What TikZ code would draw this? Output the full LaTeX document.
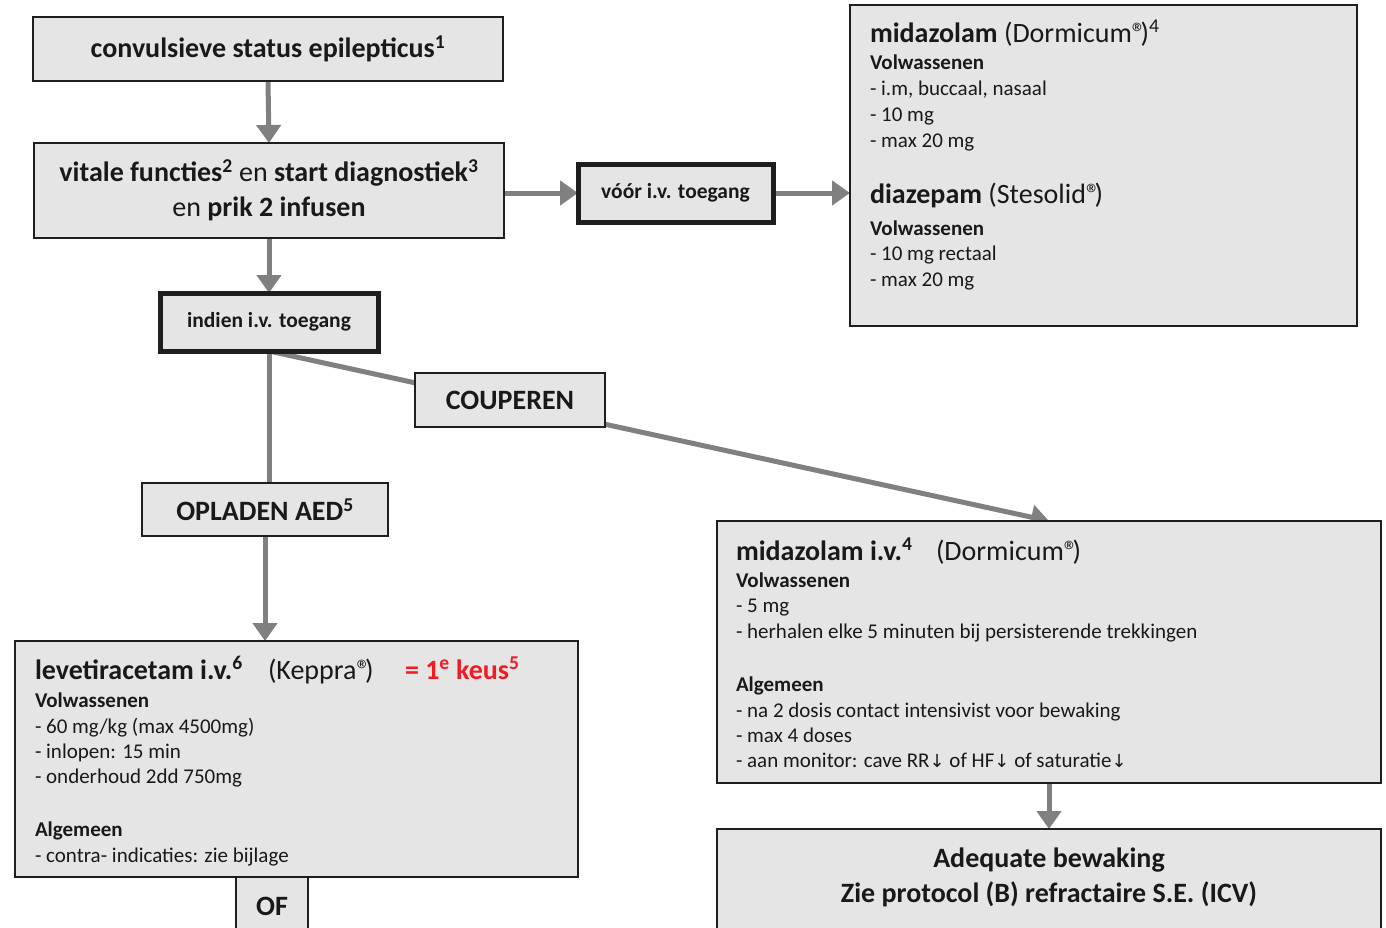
\documentclass[tikz,border=0pt]{standalone}
\usepackage{fontspec}
\setmainfont{Carlito}
\newfontfamily\symfont{DejaVu Sans}
\usetikzlibrary{arrows.meta,backgrounds}
\definecolor{boxfill}{RGB}{229,229,229}
\definecolor{boxline}{RGB}{30,30,30}
\definecolor{conncol}{RGB}{128,128,128}
\definecolor{txt}{RGB}{25,25,25}
\definecolor{keus}{RGB}{238,28,36}
\newcommand{\dn}{{\symfont\fontsize{18}{20}\selectfont ↓}}
\newcommand{\regmark}{®\kern-0.2em}
\tikzset{
 box/.style={draw=boxline, fill=boxfill, line width=2.5pt, anchor=north west, inner sep=0pt, outer sep=0pt, text=txt, align=center},
 boldbox/.style={box, line width=5pt},
 conn/.style={draw=conncol, line width=5pt},
 arr/.style={conn, -{Triangle[length=18pt,width=24pt]}},
 big/.style={font=\fontsize{28}{35}\selectfont\bfseries},
 small/.style={font=\fontsize{21.5}{25}\selectfont\bfseries},
 body/.style={font=\fontsize{21}{25}\selectfont, text=txt, anchor=base west, inner sep=0pt, outer sep=0pt},
 bbody/.style={body, font=\fontsize{21}{25}\selectfont\bfseries},
 title/.style={body, font=\fontsize{28}{30}\selectfont},
}
\begin{document}
\begin{tikzpicture}[x=1pt,y=-1pt]
\useasboundingbox (0,0) rectangle (1386,927);
\clip (0,0) rectangle (1386,927);

% boxes
\node[box, big, minimum width=470, minimum height=64] (n1) at (33,17) {convulsieve status epilepticus\textsuperscript{1}};
\node[box, minimum width=470, minimum height=95, font=\fontsize{28}{35}\selectfont] (n2) at (34,143)
  {\textbf{vitale functies\textsuperscript{2}} en \textbf{start diagnostiek\textsuperscript{3}}\\ en \textbf{prik 2 infusen}};
\node[boldbox, small, minimum width=195, minimum height=58] (voor) at (578,164) {vóór i.v. toegang};
\node[box, minimum width=507, minimum height=321] (mid1) at (850,5) {};
\node[boldbox, small, minimum width=218, minimum height=58] (indien) at (160,293) {indien i.v. toegang};
\node[box, big, minimum width=190, minimum height=54] (coup) at (415,373) {COUPEREN};
\node[box, big, minimum width=246, minimum height=53] (oplad) at (142,483) {OPLADEN AED\textsuperscript{5}};
\node[box, minimum width=563, minimum height=236] (lev) at (15,641) {};
\node[box, big, minimum width=72, minimum height=58] (of) at (236,877) {OF};
\node[box, minimum width=664, minimum height=262] (mid2) at (717,521) {};
\node[box, minimum width=664, minimum height=130] (adeq) at (717,829) {};
\node[big, text=txt, align=center] (adeqt) at (1049,877) {Adequate bewaking\\ Zie protocol (B) refractaire S.E. (ICV)};

% connectors
\begin{scope}[on background layer]
\fill[white] (0,0) rectangle (1386,927);
\draw[arr] (n1.south) -- (n2.north);
\draw[arr] (voor.west -| n2.east) -- (voor.west);
\draw[arr] (voor.east) -- (voor.east -| mid1.west);
\draw[arr] (n2.south) -- (n2.south |- indien.north);
\draw[conn] (indien.south) -- (indien.south |- oplad.north);
\draw[arr] (oplad.south) -- (oplad.south |- lev.north);
\draw[arr] (indien.south) -- (mid2.north);
\draw[arr] (mid2.south) -- (adeq.north);
\end{scope}

% texts top right
\node[title] (a1) at (870,42) {\textbf{midazolam} (Dormicum\regmark)\textsuperscript{4}};
\node[bbody] (a2) at (870,69) {Volwassenen};
\node[body] (a3) at (870,95) {- i.m, buccaal, nasaal};
\node[body] (a4) at (870,121) {- 10 mg};
\node[body] (a5) at (870,147) {- max 20 mg};
\node[title] (a6) at (870,203) {\textbf{diazepam} (Stesolid\regmark)};
\node[bbody] (a7) at (870,235) {Volwassenen};
\node[body] (a8) at (870,260) {- 10 mg rectaal};
\node[body] (a9) at (870,286) {- max 20 mg};

% texts midazolam iv
\node[title] (b1) at (736,560) {\textbf{midazolam i.v.\textsuperscript{4}}};
\node[title] (b1b) at (936,560) {(Dormicum\regmark)};
\node[bbody] (b2) at (736,587) {Volwassenen};
\node[body] (b3) at (736,612) {- 5 mg};
\node[body] (b4) at (736,638) {- herhalen elke 5 minuten bij persisterende trekkingen};
\node[bbody] (b5) at (736,691) {Algemeen};
\node[body] (b6) at (736,717) {- na 2 dosis contact intensivist voor bewaking};
\node[body] (b7) at (736,742) {- max 4 doses};
\node[body] (b8) at (736,767) {- aan monitor: cave RR\dn\ of HF\dn\ of saturatie\dn};

% texts levetiracetam
\node[title] (c1) at (35,679) {\textbf{levetiracetam i.v.\textsuperscript{6}}};
\node[title] (c1b) at (268,679) {(Keppra\regmark)};
\node[title, text=keus] (c1c) at (405,679) {\textbf{= 1\textsuperscript{e} keus\textsuperscript{5}}};
\node[bbody] (c2) at (35,707) {Volwassenen};
\node[body] (c3) at (35,733) {- 60 mg/kg (max 4500mg)};
\node[body] (c4) at (35,758) {- inlopen: 15 min};
\node[body] (c5) at (35,783) {- onderhoud 2dd 750mg};
\node[bbody] (c6) at (35,836) {Algemeen};
\node[body] (c7) at (35,862) {- contra- indicaties: zie bijlage};
\end{tikzpicture}
\end{document}
